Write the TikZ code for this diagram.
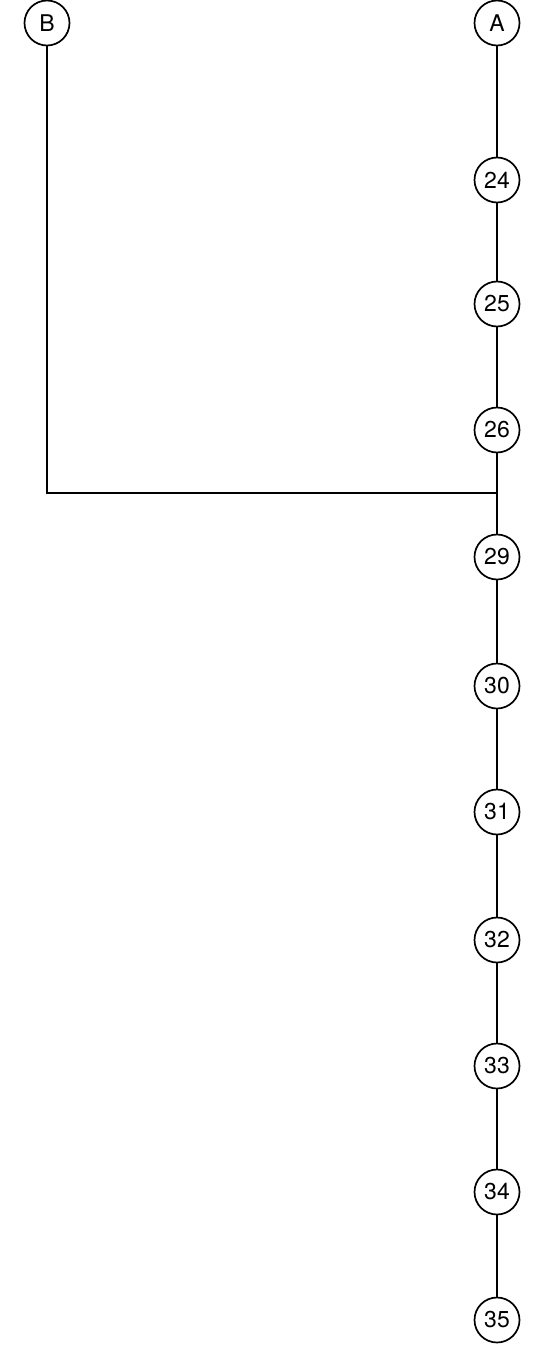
\documentclass[tikz,border=0pt]{standalone}
\usepackage{fontspec}
\setsansfont{TeX Gyre Heros}
\usepackage{tikz}
\usetikzlibrary{positioning,calc}
\newcommand{\stationfont}{\sffamily\fontsize{23}{23}\selectfont}
\tikzset{
    station/.style={circle, draw=black, line width=1.7pt, fill=white, minimum size=45pt, inner sep=0pt, font=\stationfont},
    link/.style={line width=1.7pt, black},
}

\begin{document}
\begin{tikzpicture}[x=1pt, y=-1pt]
    \useasboundingbox (0,0) rectangle (536,1362);
    % Branch end points
    \node[station] (B) at (47, 23) {B};
    \node[station] (A) at (497, 23) {A};
    % Upper part of the main line
    \foreach \n/\y in {24/180, 25/304, 26/430} {
        \node[station] (s\n) at (497, \y) {\n};
    }
    % Lower part of the main line
    \foreach \n/\y in {29/557, 30/686, 31/812, 32/940, 33/1066, 34/1192, 35/1320} {
        \node[station] (s\n) at (497, \y) {\n};
    }
    % Junction
    \coordinate (junc) at (497, 493);
    \coordinate (bend) at (B |- junc);
    % Links
    \draw[link] (A) -- (s24);
    \draw[link] (s24) -- (s25);
    \draw[link] (s25) -- (s26);
    \draw[link] (s26) -- (junc) -- (s29);
    \draw[link] (B) -- (bend) -- (junc);
    \foreach \a/\b in {29/30, 30/31, 31/32, 32/33, 33/34, 34/35} {
        \draw[link] (s\a) -- (s\b);
    }
\end{tikzpicture}
\end{document}
